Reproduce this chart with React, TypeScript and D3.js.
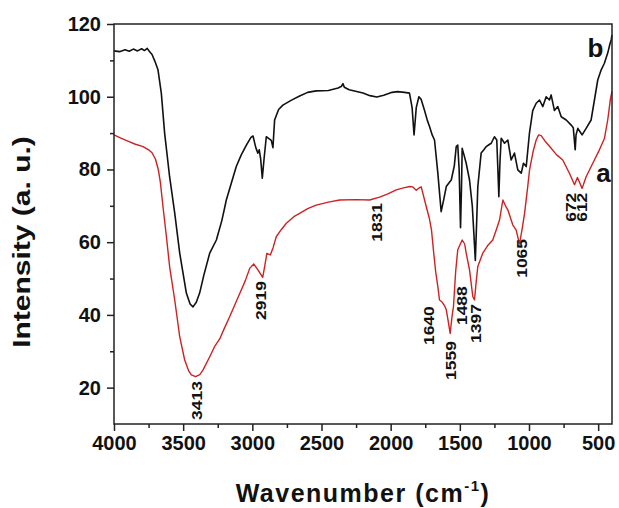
import React, { useRef, useEffect } from "react";
import * as d3 from "d3";

// spectrum b (black)
const waveB = [
  4000, 3960, 3920, 3890, 3860, 3830, 3800, 3780, 3760, 3745, 3725, 3705, 3682, 3658, 3634, 3598,
  3561, 3525, 3477, 3450, 3429, 3405, 3381, 3350, 3308, 3260, 3220, 3188, 3150, 3116, 3080, 3043,
  3010, 2995, 2975, 2960, 2950, 2940, 2928, 2915, 2899, 2880, 2863, 2851, 2839, 2810, 2779, 2720,
  2658, 2600, 2538, 2450, 2380, 2355, 2345, 2335, 2300, 2200, 2150, 2100, 2050, 1990, 1950, 1900,
  1864, 1845, 1831, 1815, 1796, 1780, 1755, 1735, 1719, 1700, 1683, 1659, 1635, 1615, 1598, 1575,
  1562, 1540, 1526, 1515, 1505, 1495, 1488, 1483, 1470, 1454, 1430, 1410, 1398, 1388, 1378, 1370,
  1346, 1325, 1309, 1290, 1273, 1250, 1233, 1225, 1218, 1210, 1201, 1177, 1153, 1129, 1105, 1081,
  1056, 1040, 1020, 997, 973, 948, 924, 900, 876, 852, 840, 816, 792, 767, 731, 695,
  680, 666, 660, 647, 630, 616, 587, 551, 527, 503, 478, 455, 431, 415, 406, 400,
];
const intensityB = [
  112.6, 112.4, 112.9, 112.5, 113.1, 112.6, 113.2, 112.7, 113.3, 112.5, 111.6, 109.8, 107.4, 101.0, 90.0, 78.0,
  68.0, 57.0, 46.0, 43.0, 42.2, 43.5, 46.0, 51.0, 57.0, 60.6, 66.0, 71.6, 76.5, 80.8, 84.0, 86.7,
  88.8, 89.2, 86.0, 84.5, 85.4, 83.0, 77.6, 83.0, 89.0, 88.5, 88.0, 86.0, 93.6, 96.5, 97.7, 99.0,
  100.2, 101.2, 101.6, 101.7, 102.4, 102.9, 103.6, 102.6, 101.9, 101.0, 100.3, 99.9, 100.4, 101.2, 101.4, 101.2,
  101.0, 97.0, 89.5, 97.0, 100.0, 99.3, 96.2, 93.5, 91.8, 89.5, 88.1, 79.0, 68.4, 72.0, 75.3, 76.5,
  77.1, 81.0, 86.3, 86.7, 80.0, 64.0, 75.0, 85.8, 84.0, 81.7, 77.1, 70.0, 62.0, 55.0, 66.0, 75.3,
  84.5, 85.5, 86.3, 86.8, 87.2, 89.0, 88.1, 80.0, 72.5, 82.0, 88.6, 87.2, 88.1, 82.6, 84.5, 79.9,
  79.0, 81.7, 80.8, 89.9, 96.2, 98.2, 99.1, 97.3, 100.0, 99.1, 100.5, 96.2, 97.3, 94.5, 93.6, 92.2,
  91.5, 85.4, 89.5, 91.3, 90.3, 89.5, 91.3, 93.6, 99.1, 104.6, 107.4, 109.2, 112.0, 114.5, 115.6, 117.0,
];

// spectrum a (red)
const waveA = [
  4000, 3950, 3900, 3850, 3790, 3750, 3725, 3700, 3680, 3665, 3646, 3621, 3598, 3561, 3525, 3489,
  3460, 3441, 3410, 3380, 3357, 3308, 3270, 3236, 3200, 3164, 3091, 3050, 3019, 2990, 2960, 2940,
  2925, 2910, 2895, 2870, 2850, 2827, 2790, 2754, 2700, 2658, 2600, 2538, 2450, 2369, 2250, 2152,
  2080, 2020, 1960, 1900, 1860, 1840, 1815, 1795, 1779, 1743, 1720, 1705, 1690, 1675, 1659, 1647,
  1630, 1610, 1598, 1585, 1570, 1555, 1546, 1530, 1515, 1483, 1465, 1454, 1430, 1406, 1394, 1382,
  1370, 1334, 1300, 1262, 1240, 1213, 1189, 1170, 1153, 1117, 1093, 1069, 1050, 1032, 1010, 996,
  970, 948, 930, 912, 880, 852, 800, 756, 707, 671, 650, 616, 587, 539, 491, 455,
  431, 411, 400,
];
const intensityA = [
  89.5, 88.6, 87.8, 87.0, 86.3, 85.4, 84.6, 82.8, 80.0, 76.5, 69.8, 61.5, 53.3, 44.1, 34.0, 27.6,
  24.6, 23.5, 23.0, 23.6, 24.8, 28.5, 31.5, 33.4, 36.5, 39.5, 45.9, 49.5, 52.8, 54.0, 52.4, 51.2,
  50.3, 53.5, 56.9, 56.5, 58.5, 61.5, 63.5, 65.2, 67.0, 67.9, 69.2, 70.2, 71.0, 71.6, 71.7, 71.6,
  72.4, 73.3, 74.4, 75.0, 75.3, 75.2, 74.3, 74.9, 75.2, 69.8, 66.5, 63.4, 57.5, 52.0, 47.8, 44.1,
  43.6, 42.5, 41.4, 38.5, 34.9, 40.0, 42.3, 52.0, 57.9, 60.6, 59.5, 57.0, 52.4, 45.0, 44.1, 49.0,
  53.3, 57.0, 59.0, 60.6, 63.0, 66.1, 71.6, 70.0, 68.9, 64.7, 63.4, 59.5, 63.5, 67.9, 75.0, 79.9,
  85.0, 88.1, 89.5, 89.3, 87.6, 86.4, 84.0, 82.6, 78.9, 75.8, 77.8, 74.8, 78.0, 81.7, 85.4, 88.5,
  93.6, 99.5, 101.5,
];

const xTicks = [4000, 3500, 3000, 2500, 2000, 1500, 1000, 500];
const xMinorTicks = [3750, 3250, 2750, 2250, 1750, 1250, 750];
const yTicks = [20, 40, 60, 80, 100, 120];
const yMinorTicks = [30, 50, 70, 90, 110];

// peak labels: text, wavenumber / intensity of the label's lower end
const peakNames = ["3413", "2919", "1831", "1640", "1559", "1488", "1397", "1065", "672", "612"];
const peakWaves = [3402, 2933, 2095, 1719, 1560, 1480, 1379, 1047, 693, 613];
const peakLevels = [11.1, 38.6, 60.1, 31.7, 22.1, 37.2, 32.3, 50.2, 65.6, 65.6];

const curveNames = ["b", "a"];
const curveNameWaves = [578, 513];
const curveNameLevels = [110.9, 76.6];

const FONT = "'Liberation Sans', Arial, Helvetica, sans-serif";

const App = () => {
  const svgRef = useRef(null);
  const width = 619;
  const height = 508;

  useEffect(() => {
    const svg = d3.select(svgRef.current);
    svg.selectAll("*").remove();

    const margin = { top: 24, right: 7, bottom: 84, left: 114 };
    const x = d3.scaleLinear().domain([4000, 400]).range([margin.left, width - margin.right]);
    const y = d3.scaleLinear().domain([10, 120]).range([height - margin.bottom, margin.top]);

    const line = d3
      .line()
      .x(d => x(d[0]))
      .y(d => y(d[1]));

    // spectra
    svg
      .append("path")
      .attr("d", line(waveA.map((w, i) => [w, intensityA[i]])))
      .attr("fill", "none")
      .attr("stroke", "#cc2222")
      .attr("stroke-width", 1.4)
      .attr("stroke-linejoin", "round");

    svg
      .append("path")
      .attr("d", line(waveB.map((w, i) => [w, intensityB[i]])))
      .attr("fill", "none")
      .attr("stroke", "#111")
      .attr("stroke-width", 1.6)
      .attr("stroke-linejoin", "round");

    // frame
    svg
      .append("rect")
      .attr("x", x(4000))
      .attr("y", y(120))
      .attr("width", x(400) - x(4000))
      .attr("height", y(10) - y(120))
      .attr("fill", "none")
      .attr("stroke", "#222")
      .attr("stroke-width", 1.5);

    // x axis
    const xAxis = svg
      .append("g")
      .attr("transform", `translate(0, ${y(10)})`)
      .call(d3.axisBottom(x).tickValues(xTicks).tickSize(7).tickPadding(5).tickFormat(d3.format("d")));
    xAxis.select(".domain").remove();
    xAxis.selectAll("line").attr("stroke", "#222").attr("stroke-width", 1.5);
    xAxis
      .selectAll("text")
      .attr("fill", "#111")
      .style("font-family", FONT)
      .style("font-size", "20px")
      .style("font-weight", "bold");

    const xMinor = svg
      .append("g")
      .attr("transform", `translate(0, ${y(10)})`)
      .call(d3.axisBottom(x).tickValues(xMinorTicks).tickSize(4).tickFormat(() => ""));
    xMinor.select(".domain").remove();
    xMinor.selectAll("line").attr("stroke", "#222").attr("stroke-width", 1.5);

    // y axis
    const yAxis = svg
      .append("g")
      .attr("transform", `translate(${x(4000)}, 0)`)
      .call(d3.axisLeft(y).tickValues(yTicks).tickSize(7).tickPadding(6));
    yAxis.select(".domain").remove();
    yAxis.selectAll("line").attr("stroke", "#222").attr("stroke-width", 1.5);
    yAxis
      .selectAll("text")
      .attr("fill", "#111")
      .style("font-family", FONT)
      .style("font-size", "20px")
      .style("font-weight", "bold");

    const yMinor = svg
      .append("g")
      .attr("transform", `translate(${x(4000)}, 0)`)
      .call(d3.axisLeft(y).tickValues(yMinorTicks).tickSize(4).tickFormat(() => ""));
    yMinor.select(".domain").remove();
    yMinor.selectAll("line").attr("stroke", "#222").attr("stroke-width", 1.5);

    // peak labels (slightly elongated like the source)
    peakNames.forEach((name, i) => {
      const px = x(peakWaves[i]);
      const py = y(peakLevels[i]);
      svg
        .append("text")
        .attr("transform", `translate(${px}, ${py}) rotate(-90) scale(1.25, 1)`)
        .attr("dominant-baseline", "central")
        .attr("text-anchor", "start")
        .style("font-family", FONT)
        .style("font-size", "14px")
        .style("font-weight", "bold")
        .attr("fill", "#111")
        .text(name);
    });

    // curve labels
    curveNames.forEach((name, i) => {
      svg
        .append("text")
        .attr("x", x(curveNameWaves[i]))
        .attr("y", y(curveNameLevels[i]))
        .style("font-family", FONT)
        .style("font-size", "26px")
        .style("font-weight", "bold")
        .attr("fill", "#111")
        .text(name);
    });

    // axis titles
    const xTitle = svg
      .append("text")
      .attr("x", (x(4000) + x(400)) / 2)
      .attr("y", 502)
      .attr("text-anchor", "middle")
      .style("font-family", FONT)
      .style("font-size", "25px")
      .style("font-weight", "bold")
      .style("letter-spacing", "1.5px")
      .attr("fill", "#111");
    xTitle.append("tspan").text("Wavenumber (cm");
    xTitle.append("tspan").attr("dy", -11).style("font-size", "15px").text("-1");
    xTitle.append("tspan").attr("dy", 11).text(")");

    svg
      .append("text")
      .attr("transform", `translate(30, 242) rotate(-90) scale(1.25, 1)`)
      .attr("text-anchor", "middle")
      .style("font-family", FONT)
      .style("font-size", "24px")
      .style("font-weight", "bold")
      .attr("fill", "#111")
      .text("Intensity (a. u.)");
  }, []);

  return (
    <svg
      ref={svgRef}
      width={width}
      height={height}
      style={{ position: "absolute", left: 0, top: 0, background: "#fff" }}
    />
  );
};

export default App;
